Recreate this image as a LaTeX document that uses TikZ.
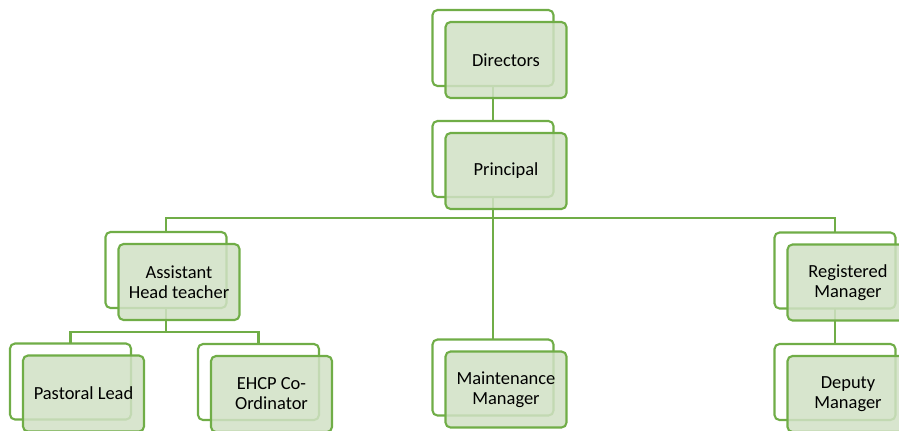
\documentclass[tikz,border=0pt]{standalone}
\usepackage{fontspec}
\setmainfont{Carlito}
\definecolor{boxline}{HTML}{70AD47}
\definecolor{boxfill}{HTML}{D1E1C5}
\tikzset{
	backbox/.style={draw=boxline,line width=1.2pt,rounded corners=1mm,fill=white,minimum width=24.2mm,minimum height=15.2mm,inner sep=0pt,outer sep=0pt},
	frontbox/.style={draw=boxline,line width=1.2pt,rounded corners=1mm,fill=boxfill,fill opacity=.85,text opacity=1,minimum width=24.2mm,minimum height=15.2mm,inner sep=0pt,outer sep=0pt,align=center,font=\fontsize{10.5}{11.4}\selectfont},
	link/.style={draw=boxline,line width=1.2pt}
}
\begin{document}
\begin{tikzpicture}[x=0.2mm,y=-0.2mm]
		\clip(0,0) rectangle (899,430);
		\coordinate (bar) at (0,218);
		\coordinate (subbar) at (0,332);
		\node[backbox] (dirb) at (493,48) {};
		\node[backbox] (prinb) at (493,159) {};
		\node[backbox] (asstb) at (166,270) {};
		\node[backbox] (regb) at (835,270.5) {};
		\node[backbox] (pastb) at (70.5,381.5) {};
		\node[backbox] (ehcpb) at (258.5,382) {};
		\node[backbox] (maintb) at (493,377.5) {};
		\node[backbox] (depb) at (835,382) {};
		\draw[link](dirb.south)--(prinb.north);
		\draw[link](prinb.south)--(maintb.north);
		\draw[link](asstb.north)--(asstb.north|-bar)--(regb.north|-bar)--(regb.north);
		\draw[link](asstb.south)--(asstb.south|-subbar);
		\draw[link](pastb.north)--(pastb.north|-subbar)--(ehcpb.north|-subbar)--(ehcpb.north);
		\draw[link](regb.south)--(depb.north);
		\node[frontbox] (dir) at ([xshift=2.6mm,yshift=-2.4mm]dirb.center) {Directors};
		\node[frontbox] (prin) at ([xshift=2.6mm,yshift=-2.4mm]prinb.center) {Principal};
		\node[frontbox] (asst) at ([xshift=2.6mm,yshift=-2.4mm]asstb.center) {Assistant\\Head teacher};
		\node[frontbox] (reg) at ([xshift=2.6mm,yshift=-2.4mm]regb.center) {Registered\\Manager};
		\node[frontbox] (past) at ([xshift=2.6mm,yshift=-2.4mm]pastb.center) {Pastoral Lead};
		\node[frontbox] (ehcp) at ([xshift=2.6mm,yshift=-2.4mm]ehcpb.center) {EHCP Co-\\Ordinator};
		\node[frontbox] (maint) at ([xshift=2.6mm,yshift=-2.4mm]maintb.center) {Maintenance\\Manager};
		\node[frontbox] (dep) at ([xshift=2.6mm,yshift=-2.4mm]depb.center) {Deputy\\Manager};
	    \end{tikzpicture}
\end{document}
